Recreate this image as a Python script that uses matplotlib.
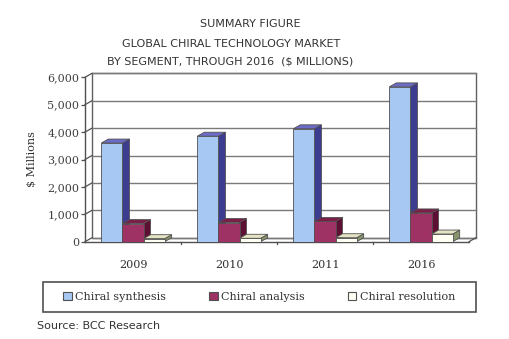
import matplotlib
matplotlib.use("Agg")
import matplotlib.pyplot as plt
from matplotlib.patches import Rectangle, Polygon, Patch
import numpy as np

years = ["2009", "2010", "2011", "2016"]
series_names = ["Chiral synthesis", "Chiral analysis", "Chiral resolution"]
synthesis = [3600, 3850, 4120, 5650]
analysis = [660, 700, 740, 1050]
resolution = [110, 125, 145, 280]
yticks = [0, 1000, 2000, 3000, 4000, 5000, 6000]
ytick_labels = ["0", "1,000", "2,000", "3,000", "4,000", "5,000", "6,000"]

front_cols = ["#a6c8f2", "#9e3264", "#fffff4"]
top_cols = ["#6c6cc6", "#7a1f48", "#e4e4c4"]
side_cols = ["#3c3c90", "#5e1034", "#86966a"]
edge_col = "#505050"

W, H = 509, 339
fig = plt.figure(figsize=(W / 100, H / 100), dpi=100)
# front plane of the plot (pixels)
left_px, right_px, bottom_px, top_px = 85, 469, 241.7, 77.3
ax = fig.add_axes([left_px / W, 1 - bottom_px / H, (right_px - left_px) / W, (bottom_px - top_px) / H])
ax.set_xlim(-0.5, 3.5)
ax.set_ylim(0, 6000)
for s in ax.spines.values():
    s.set_visible(False)
ax.patch.set_visible(False)

dx = 7 / (right_px - left_px) * 4
dy = 4 / (bottom_px - top_px) * 6000
grid_col = "#7a7a7a"

# back wall
ax.add_patch(Rectangle((-0.5 + dx, dy), 4, 6000, facecolor="white", edgecolor="#606060", lw=1.0, clip_on=False, zorder=0))
for t in yticks:
    ax.plot([-0.5 + dx, 3.5 + dx], [t + dy, t + dy], color=grid_col, lw=1.0, clip_on=False, zorder=1)
    ax.plot([-0.5, -0.5 + dx], [t, t + dy], color="#505050", lw=0.9, clip_on=False, zorder=1)
# left side wall and floor
ax.plot([-0.5, -0.5], [0, 6000], color="#505050", lw=1.0, clip_on=False, zorder=1)
ax.plot([-0.5, 3.5], [0, 0], color="#505050", lw=1.0, clip_on=False, zorder=1)
ax.plot([3.5, 3.5 + dx], [0, dy], color="#505050", lw=0.9, clip_on=False, zorder=1)
for i in range(1, 4):
    ax.plot([i - 0.5, i - 0.5], [0, -80], color="#505050", lw=0.9, clip_on=False, zorder=1)

w = 0.22
data = [synthesis, analysis, resolution]
z = 2
for i in range(len(years)):
    for j, vals in enumerate(data):
        v = vals[i]
        x0 = i + (j - 1) * w - w / 2
        ax.add_patch(Polygon([(x0 + w, 0), (x0 + w + dx, dy), (x0 + w + dx, v + dy), (x0 + w, v)],
                             closed=True, facecolor=side_cols[j], edgecolor=edge_col, lw=0.6, zorder=z))
        ax.add_patch(Polygon([(x0, v), (x0 + dx, v + dy), (x0 + w + dx, v + dy), (x0 + w, v)],
                             closed=True, facecolor=top_cols[j], edgecolor=edge_col, lw=0.6, zorder=z))
        ax.add_patch(Rectangle((x0, 0), w, v, facecolor=front_cols[j], edgecolor=edge_col, lw=0.6, zorder=z + 0.5))
        z += 1

serif = "DejaVu Serif"
ax.set_yticks(yticks)
ax.set_yticklabels(ytick_labels, family=serif, fontsize=8, color="#404040")
ax.tick_params(axis="y", length=3, width=0.9, color="#505050", pad=1)
ax.set_xticks(range(len(years)))
ax.set_xticklabels(years, family=serif, fontsize=8, color="#303030")
ax.tick_params(axis="x", length=0, pad=13)
ax.set_ylabel("$ Millions", family=serif, fontsize=8, color="#303030", labelpad=8)

tc = "#333333"
fig.text(250 / W, 1 - 24 / H, "SUMMARY FIGURE", ha="center", va="center", fontsize=8, color=tc)
fig.text(231 / W, 1 - 44 / H, "GLOBAL CHIRAL TECHNOLOGY MARKET", ha="center", va="center", fontsize=8, color=tc)
fig.text(230 / W, 1 - 61 / H, "BY SEGMENT, THROUGH 2016  ($ MILLIONS)", ha="center", va="center", fontsize=8, color=tc)
fig.text(37 / W, 1 - 326 / H, "Source: BCC Research", ha="left", va="center", fontsize=8, color=tc)

# legend frame
fig.add_artist(Rectangle((43 / W, 1 - 312 / H), (476 - 43) / W, 30 / H, transform=fig.transFigure,
                         facecolor="white", edgecolor="#505050", lw=1.2, zorder=0))
handles = [Patch(facecolor=front_cols[k], edgecolor="#505050", lw=0.8) for k in range(3)]
leg = fig.legend(handles, series_names, loc="center",
                 bbox_to_anchor=(259 / W, 1 - 297 / H),
                 ncol=3, frameon=False,
                 prop={"family": serif, "size": 8}, handlelength=0.8, handleheight=0.8,
                 handletextpad=0.3, borderaxespad=0, borderpad=0.3, columnspacing=3.85)
for t in leg.get_texts():
    t.set_color("#303030")

fig.savefig("out.png", dpi=100)
